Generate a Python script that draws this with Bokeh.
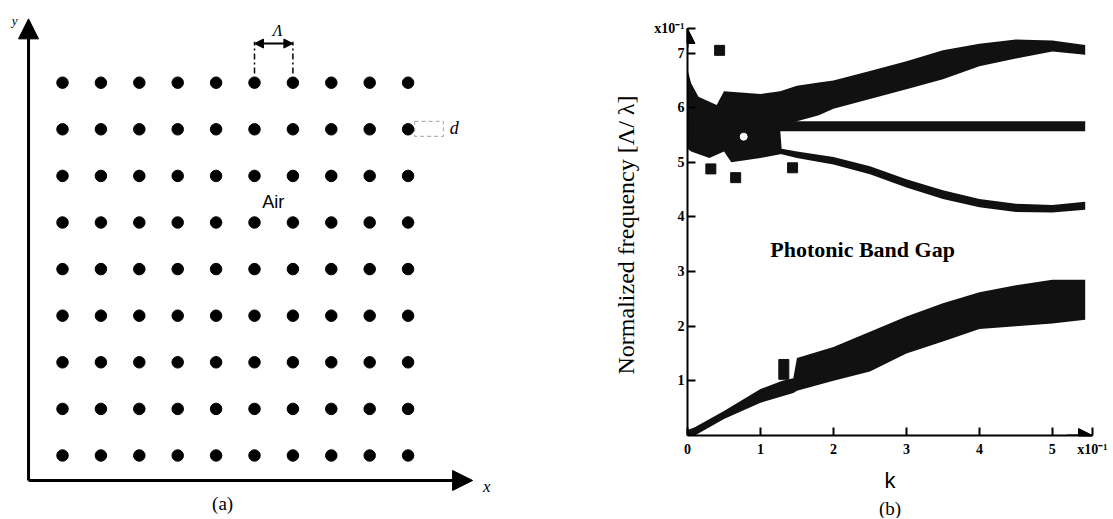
import numpy as np
from bokeh.plotting import figure
from bokeh.models import (Range1d, Arrow, NormalHead, Label, BoxAnnotation,
                          FixedTicker, Title)
from bokeh.layouts import row
from bokeh.embed import file_html
from bokeh.resources import INLINE

# ---------------- data ----------------
# panel (a): square lattice of dielectric rods in air (lattice indices)
lattice_cols = [0, 1, 2, 3, 4, 5, 6, 7, 8, 9]
lattice_rows = [0, 1, 2, 3, 4, 5, 6, 7, 8]

# panel (b): band structure, k and frequency both in units of x10^-1
kA = [0.0, 0.1, 0.5, 1.0, 1.3, 1.45, 1.5, 2.0, 2.5, 3.0, 3.5, 4.0, 4.5, 5.0, 5.45]
lowA = [0.0, 0.0, 0.30, 0.60, 0.72, 0.78, 0.82, 1.00, 1.17, 1.50, 1.72, 1.95, 2.00, 2.05, 2.12]
upA = [0.10, 0.15, 0.45, 0.85, 1.00, 1.05, 1.42, 1.62, 1.90, 2.18, 2.42, 2.62, 2.75, 2.85, 2.85]

kB = [0.0, 0.05, 0.15, 0.4, 0.5, 1.0, 1.27, 1.5, 1.8, 2.0, 2.5, 3.0, 3.5, 4.0, 4.5, 5.0, 5.45]
lowB = [5.60, 5.60, 5.60, 5.60, 5.60, 5.60, 5.60, 5.75, 5.86, 5.98, 6.16, 6.34, 6.52, 6.76, 6.90, 7.03, 6.97]
upB = [6.70, 6.45, 6.20, 6.05, 6.30, 6.25, 6.30, 6.40, 6.46, 6.50, 6.67, 6.85, 7.05, 7.17, 7.25, 7.23, 7.15]

kF = [0.0, 5.45]
lowF = [5.57, 5.57]
upF = [5.75, 5.75]

kC = [0.0, 0.05, 0.3, 0.5, 0.6, 1.0, 1.27, 1.29, 1.5, 2.0, 2.5, 3.0, 3.5, 4.0, 4.5, 5.0, 5.45]
lowC = [5.25, 5.20, 5.08, 5.20, 5.00, 5.08, 5.15, 5.15, 5.08, 4.96, 4.78, 4.54, 4.33, 4.18, 4.09, 4.08, 4.13]
upC = [5.60, 5.60, 5.60, 5.60, 5.60, 5.60, 5.60, 5.25, 5.20, 5.10, 4.93, 4.69, 4.49, 4.33, 4.24, 4.22, 4.28]

kS = [0.44, 0.32, 0.66, 1.44, 1.32, 1.32]
wS = [7.05, 4.88, 4.72, 4.90, 1.12, 1.30]

y_ticks = [1, 2, 3, 4, 5, 6, 7, 7.449]
x_ticks = [0, 1, 2, 3, 4, 5, 5.549]
y_tick_overrides = {7.449: "x10⁻¹"}
x_tick_overrides = {5.549: "x10⁻¹"}

# ---------------- panel (a) ----------------
p1 = figure(width=555, height=518, x_range=Range1d(-1.615, 12.839),
            y_range=Range1d(-1.352, 9.764), x_axis_type=None, y_axis_type=None,
            output_backend="svg", toolbar_location=None, min_border=0)
p1.outline_line_color = None
p1.grid.visible = False
p1.frame_align = False

gx, gy = np.meshgrid(lattice_cols, lattice_rows)
p1.scatter(gx.ravel(), gy.ravel(), size=11.5, marker="circle",
           fill_color="black", line_color="black")

p1.add_layout(Arrow(end=NormalHead(size=20, fill_color="black", line_color="black"),
                    x_start=-0.885, y_start=-0.536, x_end=-0.885, y_end=9.37,
                    line_width=3, line_color="black"))
p1.add_layout(Arrow(end=NormalHead(size=20, fill_color="black", line_color="black"),
                    x_start=-0.885, y_start=-0.536, x_end=10.68, y_end=-0.536,
                    line_width=3, line_color="black"))

p1.segment(x0=[5, 6], y0=[8.2, 8.2], x1=[5, 6], y1=[8.88, 8.88],
           line_color="black", line_width=1.5, line_dash="6 3 2 3")
p1.add_layout(Arrow(start=NormalHead(size=9, fill_color="black", line_color="black"),
                    end=NormalHead(size=9, fill_color="black", line_color="black"),
                    x_start=5.0, y_start=8.84, x_end=6.0, y_end=8.84,
                    line_width=2, line_color="black"))
p1.add_layout(BoxAnnotation(left=9.17, right=9.92, bottom=6.85, top=7.17,
                            fill_alpha=0, line_color="black", line_width=1.2,
                            line_dash="4 3"))

def lab(p, x, y, t, size, font="Liberation Serif", style="normal", align="center", **kw):
    p.add_layout(Label(x=x, y=y, text=t, text_font=font, text_font_size=size,
                       text_font_style=style, text_align=align,
                       text_baseline="middle", text_color="black", **kw))

lab(p1, 5.6, 9.13, "Λ", "16px", style="italic")
lab(p1, 10.2, 7.02, "d", "18px", style="italic")
lab(p1, 5.49, 5.43, "Air", "18px", font="Liberation Sans")
lab(p1, 11.05, -0.67, "x", "17px", style="italic")
lab(p1, -1.25, 9.33, "y", "13px", style="italic")
lab(p1, 4.17, -1.03, "(a)", "19px")

# ---------------- panel (b) ----------------
p2 = figure(width=557, height=518, x_range=Range1d(0, 5.55), y_range=Range1d(0, 7.45),
            output_backend="svg", toolbar_location=None,
            min_border_left=132, min_border_right=20, min_border_top=28,
            min_border_bottom=75)
p2.outline_line_color = None
p2.grid.visible = False
p2.frame_align = False

for ks, lo, up in [(kA, lowA, upA), (kB, lowB, upB), (kF, lowF, upF), (kC, lowC, upC)]:
    p2.varea(x=ks, y1=lo, y2=up, fill_color="#111111")
p2.scatter(kS, wS, marker="square", size=10, fill_color="#111111", line_color="#111111")
p2.scatter([0.77], [5.47], marker="circle", size=7, fill_color="white", line_color="white")

for ax in (p2.xaxis[0], p2.yaxis[0]):
    ax.axis_line_width = 2
    ax.axis_line_color = "black"
    ax.major_tick_in = 8
    ax.major_tick_out = 0
    ax.minor_tick_line_color = None
    ax.major_tick_line_width = 2
    ax.major_tick_line_color = "black"
    ax.major_label_text_font = "Liberation Sans Narrow"
    ax.major_label_text_font_style = "bold"
    ax.major_label_text_font_size = "14px"
    ax.major_label_text_color = "black"
    ax.axis_label_text_color = "black"

p2.yaxis.ticker = FixedTicker(ticks=y_ticks)
p2.xaxis.ticker = FixedTicker(ticks=x_ticks)
p2.yaxis.major_label_overrides = y_tick_overrides
p2.xaxis.major_label_overrides = x_tick_overrides
p2.yaxis.major_label_standoff = 3
p2.xaxis.major_label_standoff = 6

p2.yaxis.axis_label = "Normalized frequency  [Λ/ λ]"
p2.yaxis.axis_label_text_font = "Liberation Serif"
p2.yaxis.axis_label_text_font_style = "normal"
p2.yaxis.axis_label_text_font_size = "24px"
p2.yaxis.axis_label_standoff = 12

p2.xaxis.axis_label = "k"
p2.xaxis.axis_label_text_font = "Liberation Sans"
p2.xaxis.axis_label_text_font_style = "normal"
p2.xaxis.axis_label_text_font_size = "22px"
p2.xaxis.axis_label_standoff = 8

p2.add_layout(Arrow(end=NormalHead(size=15, fill_color="black", line_color="black"),
                    x_start=0, y_start=7.1, x_end=0, y_end=7.45,
                    line_width=2, line_color="black"))
p2.add_layout(Arrow(end=NormalHead(size=14, fill_color="black", line_color="black"),
                    x_start=5.2, y_start=0, x_end=5.55, y_end=0,
                    line_width=2, line_color="black"))

p2.add_layout(Title(text="(b)", align="center", text_font="Liberation Serif",
                    text_font_size="19px", text_font_style="normal",
                    text_color="black", standoff=0), "below")

lab(p2, 2.4, 3.41, "Photonic Band Gap", "22px", style="bold")

layout = row(p1, p2)
open("out.html", "w").write(file_html(layout, INLINE))
